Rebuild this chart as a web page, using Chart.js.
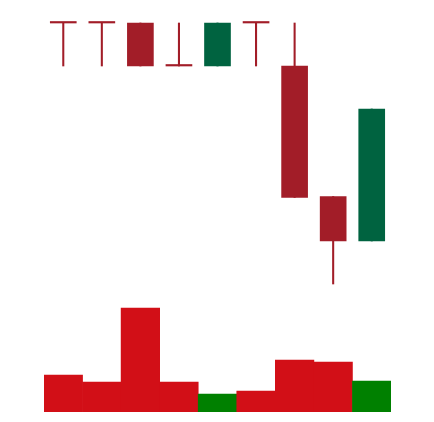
<!DOCTYPE html>
<html>
<head>
<meta charset="utf-8">
<script src="https://cdn.jsdelivr.net/npm/chart.js@4/dist/chart.umd.min.js"></script>
<style>
html,body{margin:0;padding:0;background:#fff;}
#wrap{width:434px;height:422px;}
</style>
</head>
<body>
<div id="wrap"><canvas id="c" width="434" height="422"></canvas></div>
<script>
const categories = ['1','2','3','4','5','6','7','8','9'];
const openPrices  = [15.00, 15.00, 15.00, 14.14, 14.14, 15.00, 14.14, 11.53, 10.64];
const highPrices  = [15.00, 15.00, 15.00, 15.00, 15.00, 15.00, 15.00, 11.53, 13.28];
const lowPrices   = [14.14, 14.14, 14.14, 14.14, 14.14, 14.14, 11.51, 9.78, 10.64];
const closePrices = [15.00, 15.00, 14.14, 14.14, 15.00, 15.00, 11.51, 10.64, 13.28];
const volumes     = [3.7, 3.0, 10.4, 3.0, 1.8, 2.1, 5.2, 5.0, 3.1];

const candleUp = '#006340', candleDown = '#a21d28';
const volUp = '#008000', volDown = '#d20f17';
const isUp = categories.map((_, i) => closePrices[i] > openPrices[i]);

new Chart(document.getElementById('c'), {
  type: 'bar',
  data: {
    labels: categories,
    datasets: [
      {
        label: 'wick',
        data: categories.map((_, i) => [lowPrices[i], highPrices[i]]),
        backgroundColor: isUp.map(u => u ? candleUp : candleDown),
        barThickness: 1.4,
        minBarLength: 1.4,
        grouped: false,
        yAxisID: 'y',
        order: 2
      },
      {
        label: 'body',
        data: categories.map((_, i) => [openPrices[i], closePrices[i]]),
        backgroundColor: isUp.map(u => u ? candleUp : candleDown),
        barThickness: 26,
        minBarLength: 1.5,
        grouped: false,
        yAxisID: 'y',
        order: 1
      },
      {
        label: 'volume',
        data: volumes,
        backgroundColor: isUp.map(u => u ? volUp : volDown),
        barPercentage: 1.0,
        categoryPercentage: 1.0,
        grouped: false,
        yAxisID: 'yv',
        order: 3
      }
    ]
  },
  options: {
    responsive: false,
    animation: false,
    layout: { padding: { left: 44, right: 43, top: 10, bottom: 10 } },
    plugins: { legend: { display: false }, tooltip: { enabled: false } },
    scales: {
      x: { display: false, offset: true },
      y: { display: false, min: 7.22, max: 15.26 },
      yv: { display: false, min: 0, max: 40.2 }
    }
  }
});
</script>
</body>
</html>
